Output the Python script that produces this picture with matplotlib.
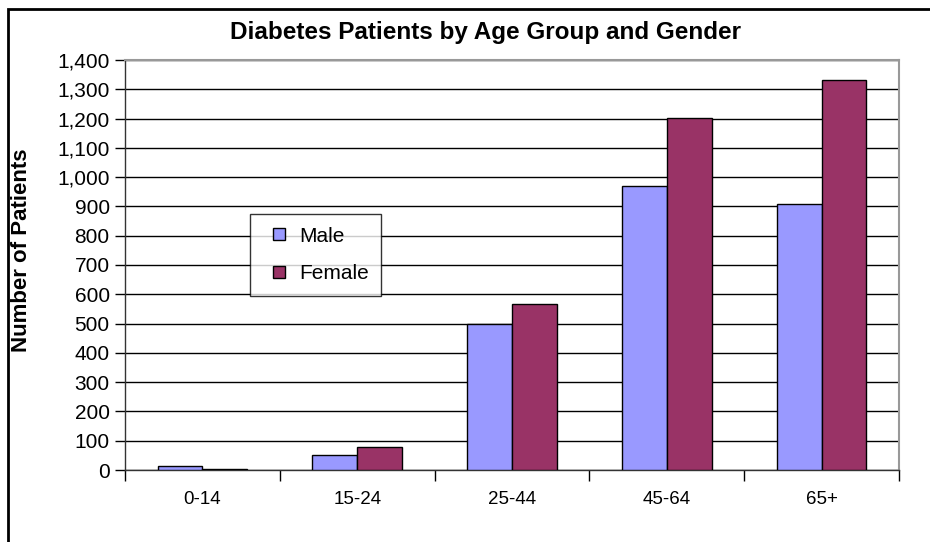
import matplotlib
matplotlib.use("Agg")
from matplotlib import pyplot as plt
from matplotlib.patches import Rectangle
from matplotlib.lines import Line2D
import numpy as np

age_groups = ["0-14", "15-24", "25-44", "45-64", "65+"]
male = [15, 52, 500, 970, 907]
female = [4, 78, 568, 1201, 1331]

male_color = "#9999FF"
female_color = "#993366"

plt.rcParams["font.family"] = ["Liberation Sans", "DejaVu Sans"]

fig = plt.figure(figsize=(9.3, 5.42), dpi=100)
# outer chart border
fig.patches.append(Rectangle((8 / 930, -0.05), 1.0, (542 - 9) / 542 + 0.05,
                             transform=fig.transFigure, fill=False,
                             edgecolor="black", linewidth=2))

ax = fig.add_axes([125 / 930, 72 / 542, 774 / 930, 410 / 542])
x = np.arange(len(age_groups))
w = 0.29
ax.bar(x - w / 2, male, w, color=male_color, edgecolor="black", linewidth=1, zorder=3)
ax.bar(x + w / 2, female, w, color=female_color, edgecolor="black", linewidth=1, zorder=3)

ax.set_xlim(-0.5, len(age_groups) - 0.5)
ax.set_ylim(0, 1400)
ax.set_yticks(np.arange(0, 1401, 100))
ax.yaxis.set_major_formatter(matplotlib.ticker.FuncFormatter(lambda v, p: f"{int(v):,}"))
ax.set_xticks(x)
ax.set_xticklabels(age_groups)
ax.set_xticks(np.arange(-0.5, len(age_groups)), minor=True)
ax.tick_params(axis="x", which="major", length=0, pad=15, labelsize=13.5)
ax.tick_params(axis="x", which="minor", length=8, width=1, color="black", direction="out")
ax.tick_params(axis="y", length=7, width=1, direction="out", labelsize=15, pad=4)
ax.grid(axis="y", color="black", linewidth=1, zorder=0)

for s in ["top", "right"]:
    ax.spines[s].set_color("#999999")
    ax.spines[s].set_linewidth(1.5)
for s in ["left", "bottom"]:
    ax.spines[s].set_color("#333333")
    ax.spines[s].set_linewidth(1)

ax.set_ylabel("Number of Patients", fontsize=16, fontweight="bold", va="center")
ax.yaxis.set_label_coords((22 - 125) / 774, (470 - 250) / 410)
fig.text(485 / 930, 1 - 33 / 542, "Diabetes Patients by Age Group and Gender",
         ha="center", va="center", fontsize=17.5, fontweight="bold")

handles = [
    Line2D([], [], linestyle="none", marker="s", markersize=8, markerfacecolor=male_color,
           markeredgecolor="black", markeredgewidth=1),
    Line2D([], [], linestyle="none", marker="s", markersize=8, markerfacecolor=female_color,
           markeredgecolor="black", markeredgewidth=1),
]
leg = ax.legend(handles, ["Male", "Female"], loc="upper left",
                bbox_to_anchor=((250 - 125) / 774, (470 - 214) / 410),
                frameon=True, fancybox=False, edgecolor="black", fontsize=15,
                handlelength=1.6, labelspacing=0.9,
                borderpad=0.6, handletextpad=0.15, borderaxespad=0)
leg.get_frame().set_linewidth(1)
leg.set_zorder(5)

fig.savefig("out.png", dpi=100)
